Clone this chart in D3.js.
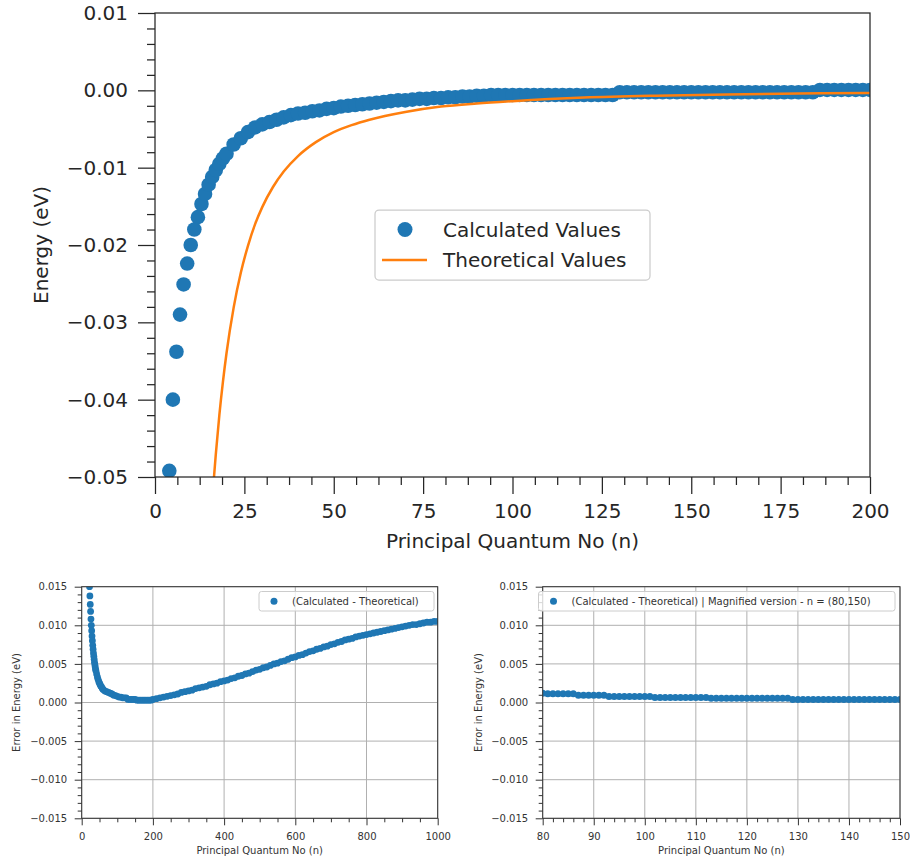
<!DOCTYPE html>
<html>
  <head>
    <meta charset='UTF-8'>
    <style>
    body {
      margin: 0;
      background: #fff;
    }
    svg {
      font-family: 'DejaVu Sans', sans-serif;
    }
    </style>
  </head>
  <body>
  <script src='https://cdnjs.cloudflare.com/ajax/libs/d3/7.8.5/d3.min.js'></script>
  <script>

    // --- top panel: energy vs n ---
    var calcN = [4, 5, 6, 7, 8, 9, 10, 11, 12, 13, 14, 15, 16, 17, 18, 19, 20,
      22, 24, 26, 28, 30, 32, 34, 36, 38, 40, 42, 44, 46, 48, 50, 52, 54, 56, 58, 60,
      62, 64, 66, 68, 70, 72, 74, 76, 78, 80, 82, 84, 86, 88, 90, 92, 94, 96, 98, 100,
      102, 104, 106, 108, 110, 112, 114, 116, 118, 120, 122, 124, 126, 128, 130,
      132, 134, 136, 138, 140, 142, 144, 146, 148, 150, 152, 154, 156, 158, 160,
      162, 164, 166, 168, 170, 172, 174, 176, 178, 180, 182, 184, 186, 188, 190,
      192, 194, 196, 198, 200];
    var calcE = [-0.0492, -0.0400, -0.0338, -0.0290, -0.0251, -0.0224, -0.0200, -0.0180, -0.0164, -0.0147, -0.0134, -0.0122, -0.0112, -0.0103, -0.0095, -0.0088, -0.0082,
      -0.0070, -0.0062, -0.0054, -0.0048, -0.0044, -0.0041, -0.0038, -0.0035, -0.0032, -0.0030, -0.0029, -0.0027, -0.0026, -0.0024, -0.0023, -0.0021, -0.0020, -0.0019, -0.0018, -0.0017,
      -0.0016, -0.0015, -0.0014, -0.0013, -0.0013, -0.0012, -0.0011, -0.0011, -0.0010, -0.0010, -0.0009, -0.0009, -0.0008, -0.0008, -0.0007, -0.0007, -0.0006, -0.0006, -0.0006, -0.0006,
      -0.0006, -0.0006, -0.0006, -0.0006, -0.0006, -0.0006, -0.0006, -0.0006, -0.0006, -0.0006, -0.0006, -0.0006, -0.0006, -0.0006, -0.00025,
      -0.00025, -0.00025, -0.00025, -0.00025, -0.00025, -0.00025, -0.00025, -0.00025, -0.00025, -0.00025, -0.00025, -0.00025, -0.00025, -0.00025, -0.00025,
      -0.00025, -0.00025, -0.00025, -0.00025, -0.00025, -0.00025, -0.00025, -0.00025, -0.00025, -0.00025, -0.00025, -0.00025, 0.00005, 0.00005, 0.00005,
      0.00005, 0.00005, 0.00005, 0.00005, 0.00005];

    var theoN = [16.5, 17, 18, 19, 20, 22, 24, 26, 28, 30, 33, 36, 40, 45, 50, 55, 60, 70, 80, 90, 100, 120, 140, 160, 180, 200];
    var theoE = [-0.0500, -0.0471, -0.0420, -0.0377, -0.0340, -0.0281, -0.0236, -0.0201, -0.0173, -0.0151, -0.0125, -0.0105, -0.0085,
      -0.0067, -0.0054, -0.0045, -0.0038, -0.0028, -0.0021, -0.0017, -0.0014, -0.00094, -0.00069, -0.00053, -0.00042, -0.00034];

    var topXTicks = [0, 25, 50, 75, 100, 125, 150, 175, 200];
    var topYTicks = [-0.05, -0.04, -0.03, -0.02, -0.01, 0, 0.01];

    // --- bottom left: error, n up to 1000 ---
    var errN = [22, 23, 24, 25, 26, 27, 28, 29, 30, 31, 32, 33, 34, 35, 36, 37, 38, 39, 40,
      42, 44, 46, 48, 50, 52, 54, 56, 58, 60,
      65, 70, 75, 80, 85, 90, 95, 100, 105, 110, 115, 120, 125, 130,
      135, 140, 145, 150, 155, 160, 165, 170, 175, 180, 185, 190, 195, 200,
      210, 220, 230, 240, 250, 260, 270, 280, 290, 300,
      310, 320, 330, 340, 350, 360, 370, 380, 390, 400,
      410, 420, 430, 440, 450, 460, 470, 480, 490, 500,
      510, 520, 530, 540, 550, 560, 570, 580, 590, 600,
      610, 620, 630, 640, 650, 660, 670, 680, 690, 700,
      710, 720, 730, 740, 750, 760, 770, 780, 790, 800,
      810, 820, 830, 840, 850, 860, 870, 880, 890, 900,
      910, 920, 930, 940, 950, 960, 970, 980, 990, 1000];
    var errV = [0.0150, 0.0138, 0.0127, 0.0118, 0.0108, 0.0100, 0.0093, 0.0086, 0.0080, 0.0074, 0.0069, 0.0064, 0.0060, 0.0056, 0.0052, 0.0049, 0.0046, 0.0043, 0.0041,
      0.0037, 0.0033, 0.0030, 0.0027, 0.0025, 0.0023, 0.0021, 0.0020, 0.0018, 0.0017,
      0.0015, 0.0014, 0.0013, 0.0012, 0.0011, 0.00095, 0.0009, 0.0008, 0.0007, 0.0007, 0.0006, 0.0006, 0.0006, 0.0004,
      0.0004, 0.0004, 0.0004, 0.0004, 0.0003, 0.0003, 0.0003, 0.0003, 0.0003, 0.0003, 0.0003, 0.0003, 0.0003, 0.0004,
      0.0005, 0.0006, 0.0007, 0.0008, 0.0009, 0.0010, 0.0011, 0.0013, 0.0014, 0.0015,
      0.0016, 0.0018, 0.0019, 0.0020, 0.0021, 0.0023, 0.0024, 0.0025, 0.0027, 0.0028,
      0.0029, 0.0031, 0.0032, 0.0034, 0.0035, 0.0037, 0.0038, 0.0040, 0.0042, 0.0043,
      0.0045, 0.0046, 0.0048, 0.0050, 0.0051, 0.0053, 0.0054, 0.0056, 0.0058, 0.0059,
      0.0061, 0.0062, 0.0064, 0.0066, 0.0067, 0.0069, 0.0070, 0.0072, 0.0073, 0.0075,
      0.0076, 0.0078, 0.0079, 0.0081, 0.0082, 0.0083, 0.0085, 0.0086, 0.0087, 0.0088,
      0.0089, 0.0090, 0.0091, 0.0092, 0.0093, 0.0094, 0.0095, 0.0096, 0.0097, 0.0098,
      0.0099, 0.0100, 0.0101, 0.0101, 0.0102, 0.0103, 0.0104, 0.0104, 0.0105, 0.0105];

    // --- bottom right: magnified, n = 80..150 ---
    var magN = [80, 81, 82, 83, 84, 85, 86, 87, 88, 89,
      90, 91, 92, 93, 94, 95, 96, 97, 98, 99,
      100, 101, 102, 103, 104, 105, 106, 107, 108, 109,
      110, 111, 112, 113, 114, 115, 116, 117, 118, 119,
      120, 121, 122, 123, 124, 125, 126, 127, 128, 129,
      130, 131, 132, 133, 134, 135, 136, 137, 138, 139,
      140, 141, 142, 143, 144, 145, 146, 147, 148, 149, 150];
    var magV = [0.0012, 0.00112, 0.00112, 0.00112, 0.00112, 0.00112, 0.00112, 0.00095, 0.00095, 0.00095,
      0.00095, 0.00095, 0.00095, 0.00078, 0.00078, 0.00078, 0.00078, 0.00078, 0.00078, 0.00078,
      0.00078, 0.00078, 0.00065, 0.00065, 0.00065, 0.00065, 0.00065, 0.00065, 0.00065, 0.00065,
      0.00065, 0.00065, 0.00065, 0.00056, 0.00056, 0.00056, 0.00056, 0.00056, 0.00056, 0.00056,
      0.00056, 0.00056, 0.00056, 0.00056, 0.00056, 0.00056, 0.00056, 0.00056, 0.00056, 0.00039,
      0.00039, 0.00039, 0.00039, 0.00039, 0.00039, 0.00039, 0.00039, 0.00039, 0.00039, 0.00039,
      0.00039, 0.00039, 0.00039, 0.00039, 0.00039, 0.00039, 0.00039, 0.00039, 0.00039, 0.00039, 0.00039];

    var errYTicks = [-0.015, -0.010, -0.005, 0, 0.005, 0.010, 0.015];
    var errXTicks = [0, 200, 400, 600, 800, 1000];
    var magXTicks = [80, 90, 100, 110, 120, 130, 140, 150];

    var blue = '#1f77b4', orange = '#ff7f0e';

    var svg = d3.select('body')
      .append('svg')
      .attr('width', 910)
      .attr('height', 860);

    // one set of axes: grid, clipped data layer, ticks, box, labels
    function panel(name, x, y, c) {
      var x0 = x.range()[0], x1 = x.range()[1];
      var y0 = y.range()[0], y1 = y.range()[1];
      var g = svg.append('g');

      svg.append('clipPath').attr('id', 'clip-' + name)
        .append('rect')
        .attr('x', x0).attr('y', y1)
        .attr('width', x1 - x0).attr('height', y0 - y1);

      if (c.grid) {
        var grid = g.append('g');
        grid.selectAll('.gx').data(c.xMajor).enter().append('line')
          .attr('x1', d => x(d)).attr('x2', d => x(d))
          .attr('y1', y1).attr('y2', y0)
          .attr('stroke', '#b0b0b0').attr('stroke-width', 1);
        grid.selectAll('.gy').data(c.yMajor).enter().append('line')
          .attr('x1', x0).attr('x2', x1)
          .attr('y1', d => y(d)).attr('y2', d => y(d))
          .attr('stroke', '#b0b0b0').attr('stroke-width', 1);
      }

      var plot = g.append('g').attr('clip-path', 'url(#clip-' + name + ')');
      var ax = g.append('g');

      function style(sel) {
        sel.attr('font-size', c.font).attr('font-family', null);
        sel.select('.domain').remove();
        sel.selectAll('line').attr('stroke', c.ink).attr('stroke-width', c.lw);
        sel.selectAll('text').attr('fill', c.ink);
      }

      ax.append('g').attr('transform', 'translate(0,' + y0 + ')')
        .call(d3.axisBottom(x).tickValues(c.xMinor).tickSize(c.minor).tickFormat(''))
        .call(style);
      ax.append('g').attr('transform', 'translate(0,' + y0 + ')')
        .call(d3.axisBottom(x).tickValues(c.xMajor).tickSize(c.major).tickPadding(c.pad).tickFormat(c.xFmt))
        .call(style);
      ax.append('g').attr('transform', 'translate(' + x0 + ',0)')
        .call(d3.axisLeft(y).tickValues(c.yMinor).tickSize(c.minor).tickFormat(''))
        .call(style);
      ax.append('g').attr('transform', 'translate(' + x0 + ',0)')
        .call(d3.axisLeft(y).tickValues(c.yMajor).tickSize(c.major).tickPadding(c.pad).tickFormat(c.yFmt))
        .call(style);

      ax.append('rect')
        .attr('x', x0).attr('y', y1)
        .attr('width', x1 - x0).attr('height', y0 - y1)
        .attr('fill', 'none').attr('stroke', c.ink).attr('stroke-width', c.lw);

      ax.append('text')
        .attr('x', (x0 + x1) / 2).attr('y', c.xLabelY)
        .attr('text-anchor', 'middle').attr('font-size', c.font).attr('fill', c.ink)
        .text(c.xLabel);
      ax.append('text')
        .attr('transform', 'translate(' + c.yLabelX + ',' + (y0 + y1) / 2 + ') rotate(-90)')
        .attr('text-anchor', 'middle').attr('font-size', c.font).attr('fill', c.ink)
        .text(c.yLabel);

      return plot;
    }

    function minors(lo, hi, step, majors) {
      return d3.range(lo, hi + step / 2, step)
        .filter(v => !majors.some(m => Math.abs(m - v) < step / 10));
    }

    // top panel
    var xTop = d3.scaleLinear().domain([0, 200]).range([155, 870]);
    var yTop = d3.scaleLinear().domain([-0.05, 0.01]).range([477, 13]);

    var energyPlot = panel('top', xTop, yTop, {
      xMajor: topXTicks, xMinor: minors(0, 200, 6.25, topXTicks),
      yMajor: topYTicks, yMinor: minors(-0.05, 0.01, 0.002, topYTicks),
      xFmt: d3.format('d'), yFmt: d3.format('.2f'),
      font: 20, ink: '#262626', lw: 1.25, major: 17, minor: 8, pad: 10,
      xLabel: 'Principal Quantum No (n)', xLabelY: 548,
      yLabel: 'Energy (eV)', yLabelX: 48
    });

    energyPlot.selectAll('circle')
      .data(calcN)
      .enter()
      .append('circle')
      .attr('cx', d => xTop(d))
      .attr('cy', (d, i) => yTop(calcE[i]))
      .attr('r', 7.3)
      .attr('fill', blue);

    energyPlot.append('path')
      .datum(theoN)
      .attr('d', d3.line()
        .x(d => xTop(d))
        .y((d, i) => yTop(theoE[i]))
        .curve(d3.curveMonotoneX))
      .attr('fill', 'none')
      .attr('stroke', orange)
      .attr('stroke-width', 2.5);

    var leg = svg.append('g');
    leg.append('rect')
      .attr('x', 375).attr('y', 210).attr('width', 275).attr('height', 70).attr('rx', 4)
      .attr('fill', '#fff').attr('fill-opacity', 0.8)
      .attr('stroke', '#cccccc').attr('stroke-width', 1.25);
    leg.append('circle').attr('cx', 405).attr('cy', 229.5).attr('r', 7.5).attr('fill', blue);
    leg.append('line').attr('x1', 382).attr('x2', 427).attr('y1', 260).attr('y2', 260)
      .attr('stroke', orange).attr('stroke-width', 2.5);
    leg.append('text').attr('x', 443).attr('y', 236.5).attr('font-size', 20).attr('fill', '#262626')
      .text('Calculated Values');
    leg.append('text').attr('x', 443).attr('y', 267).attr('font-size', 20).attr('fill', '#262626')
      .text('Theoretical Values');

    // bottom panels
    var yErr = d3.scaleLinear().domain([-0.015, 0.015]).range([818.3, 586.7]);
    var xErr = d3.scaleLinear().domain([0, 1000]).range([81.7, 437.7]);
    var xMag = d3.scaleLinear().domain([80, 150]).range([542.7, 900]);

    var small = {
      yMajor: errYTicks, yMinor: minors(-0.015, 0.015, 0.001, errYTicks),
      xFmt: d3.format('d'), yFmt: d3.format('.3f'),
      font: 10, ink: '#333333', lw: 1, major: 7, minor: 4, pad: 7.5,
      xLabel: 'Principal Quantum No (n)', xLabelY: 854,
      yLabel: 'Error in Energy (eV)', grid: true
    };

    var errPlot = panel('err', xErr, yErr, Object.assign({}, small, {
      xMajor: errXTicks, xMinor: minors(0, 1000, 50, errXTicks), yLabelX: 20
    }));
    errPlot.selectAll('circle')
      .data(errN)
      .enter()
      .append('circle')
      .attr('cx', d => xErr(d))
      .attr('cy', (d, i) => yErr(errV[i]))
      .attr('r', 3.4)
      .attr('fill', blue);

    var magPlot = panel('mag', xMag, yErr, Object.assign({}, small, {
      xMajor: magXTicks, xMinor: minors(80, 150, 2, magXTicks), yLabelX: 482
    }));
    magPlot.selectAll('circle')
      .data(magN)
      .enter()
      .append('circle')
      .attr('cx', d => xMag(d))
      .attr('cy', (d, i) => yErr(magV[i]))
      .attr('r', 3.5)
      .attr('fill', blue);

    function smallLegend(x, w, label) {
      var l = svg.append('g');
      l.append('rect')
        .attr('x', x).attr('y', 591.5).attr('width', w).attr('height', 19.5).attr('rx', 2.5)
        .attr('fill', '#fff').attr('fill-opacity', 0.8)
        .attr('stroke', '#cccccc').attr('stroke-width', 1);
      l.append('circle').attr('cx', x + 15).attr('cy', 601.3).attr('r', 3.5).attr('fill', blue);
      l.append('text').attr('x', x + 33).attr('y', 605).attr('font-size', 10).attr('fill', '#333333')
        .text(label);
    }
    smallLegend(259, 175, '(Calculated - Theoretical)');
    smallLegend(538.5, 356.5, '(Calculated - Theoretical) | Magnified version - n = (80,150)');

  </script>
  </body>
</html>
